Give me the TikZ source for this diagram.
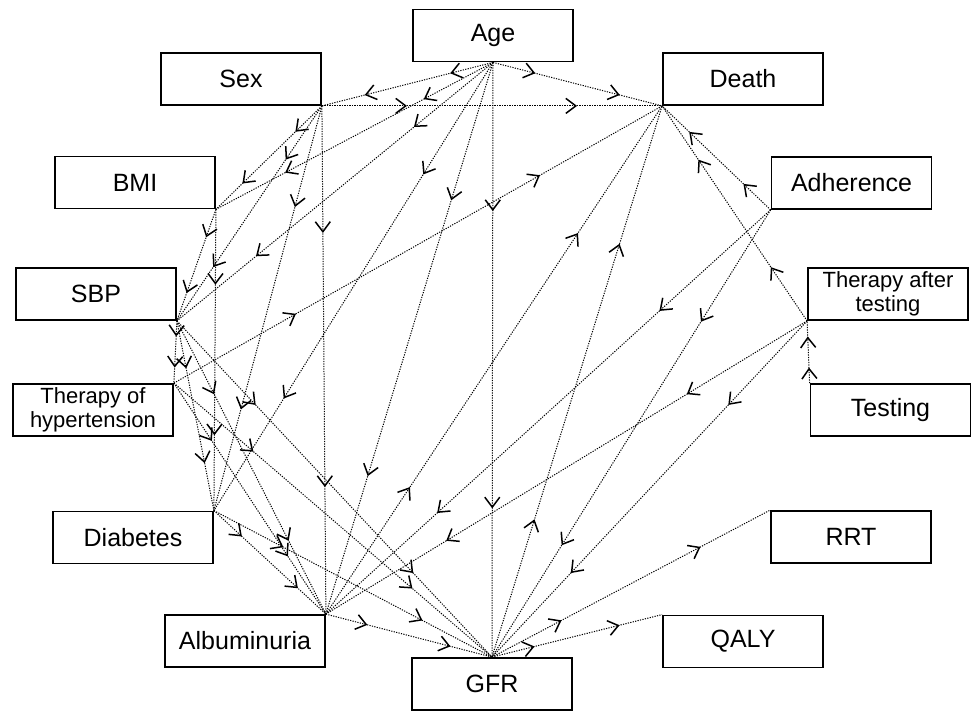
\documentclass[tikz,border=0pt]{standalone}
\usepackage{fontspec}
\setmainfont{Liberation Sans}
\usetikzlibrary{arrows.meta,decorations.markings}
\tikzset{dagtip/.tip={Straight Barb[length=10pt,width=15pt,line width=1.5pt]}}
\begin{document}
\begin{tikzpicture}[x=1pt,y=-1pt,
	box/.style={draw,line width=1.8pt,minimum width=160pt,minimum height=52pt,inner sep=0pt,
		font=\fontsize{25}{27}\selectfont},
	twoline/.style={box,align=center,font=\fontsize{22}{24}\selectfont},
	dep/.style={line width=1pt,dash pattern=on 1.2pt off 1.3pt,
		postaction={decorate,decoration={markings,
			mark=at position 0.25 with {\arrow{dagtip}},
			mark=at position 0.75 with {\arrow{dagtip}}}}}]
	\useasboundingbox (0,0) rectangle (971,711);
	%% Variables
	\node[box] (age) at (493,35.5) {Age};
	\node[box] (sex) at (241,79) {Sex};
	\node[box] (death) at (743,79) {Death};
	\node[box] (bmi) at (135,182.5) {BMI};
	\node[box] (adh) at (851.5,183) {Adherence};
	\node[box] (sbp) at (96,294) {SBP};
	\node[twoline] (tat) at (888,294) {Therapy after\\testing};
	\node[twoline] (thy) at (93,410) {Therapy of\\hypertension};
	\node[box] (test) at (890.5,410) {Testing};
	\node[box] (diab) at (133,537.5) {Diabetes};
	\node[box] (rrt) at (851,537) {RRT};
	\node[box] (alb) at (245,641) {Albuminuria};
	\node[box] (qaly) at (743,641.5) {QALY};
	\node[box] (gfr) at (492,684) {GFR};
	%% Age
	\draw[dep] (age.south) -- (sex.south east);
	\draw[dep] (age.south) -- (death.south west);
	\draw[dep] (age.south) -- (bmi.south east);
	\draw[dep] (age.south) -- (sbp.south east);
	\draw[dep] (age.south) -- (diab.north east);
	\draw[dep] (age.south) -- (alb.north east);
	\draw[dep] (age.south) -- (gfr.north);
	%% Sex
	\draw[dep] (sex.south east) -- (death.south west);
	\draw[dep] (sex.south east) -- (bmi.south east);
	\draw[dep] (sex.south east) -- (sbp.south east);
	\draw[dep] (sex.south east) -- (diab.north east);
	\draw[dep] (sex.south east) -- (alb.north east);
	%% BMI, SBP
	\draw[dep] (bmi.south east) -- (sbp.south east);
	\draw[dep] (bmi.south east) -- (diab.north east);
	\draw[dep] (sbp.south east) -- (thy.north east);
	\draw[dep] (sbp.south east) -- (diab.north east);
	\draw[dep] (sbp.south east) -- (alb.north east);
	\draw[dep] (sbp.south east) -- (gfr.north);
	%% Therapy of hypertension
	\draw[dep] (thy.north east) -- (death.south west);
	\draw[dep] (thy.north east) -- (alb.north east);
	\draw[dep] (thy.north east) -- (gfr.north);
	%% Diabetes, Albuminuria
	\draw[dep] (diab.north east) -- (alb.north east);
	\draw[dep] (diab.north east) -- (gfr.north);
	\draw[dep] (alb.north east) -- (death.south west);
	\draw[dep] (alb.north east) -- (gfr.north);
	%% GFR
	\draw[dep] (gfr.north) -- (death.south west);
	\draw[dep] (gfr.north) -- (rrt.north west);
	\draw[dep] (gfr.north) -- (qaly.north west);
	%% Adherence, testing
	\draw[dep] (adh.south west) -- (death.south west);
	\draw[dep] (adh.south west) -- (alb.north east);
	\draw[dep] (adh.south west) -- (gfr.north);
	\draw[dep] (tat.south west) -- (death.south west);
	\draw[dep] (tat.south west) -- (alb.north east);
	\draw[dep] (tat.south west) -- (gfr.north);
	\draw[dep] (test.north west) -- (tat.south west);
\end{tikzpicture}
\end{document}
